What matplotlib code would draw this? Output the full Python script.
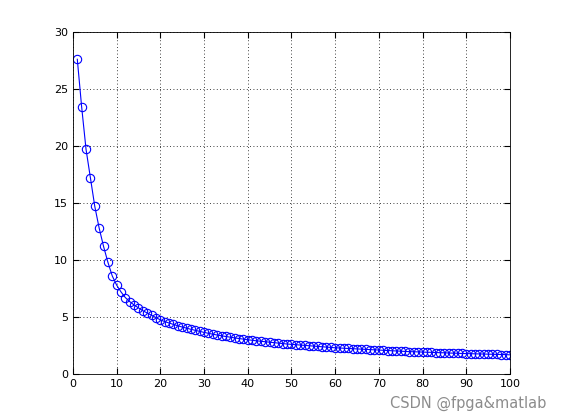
import numpy as np
import matplotlib.pyplot as plt

# x positions 1..100 and the decaying values
x = list(range(1, 101))
y = [27.6, 23.4, 19.7, 17.2, 14.7, 12.8, 11.2, 9.8, 8.6, 7.8,
     7.2, 6.7, 6.35, 6.05, 5.8, 5.55, 5.35, 5.15, 4.95, 4.75,
     4.6, 4.47, 4.35, 4.23, 4.12, 4.02, 3.92, 3.83, 3.74, 3.65,
     3.57, 3.49, 3.42, 3.35, 3.29, 3.23, 3.17, 3.11, 3.06, 3.0,
     2.96, 2.91, 2.87, 2.83, 2.79, 2.75, 2.71, 2.67, 2.63, 2.60,
     2.57, 2.54, 2.51, 2.48, 2.45, 2.42, 2.39, 2.36, 2.33, 2.30,
     2.28, 2.26, 2.24, 2.22, 2.20, 2.18, 2.16, 2.14, 2.12, 2.10,
     2.08, 2.06, 2.04, 2.02, 2.00, 1.98, 1.96, 1.95, 1.94, 1.92,
     1.91, 1.90, 1.88, 1.87, 1.86, 1.84, 1.83, 1.82, 1.80, 1.79,
     1.78, 1.77, 1.76, 1.75, 1.74, 1.73, 1.72, 1.71, 1.70, 1.68]

xticks = [0, 10, 20, 30, 40, 50, 60, 70, 80, 90, 100]
yticks = [0, 5, 10, 15, 20, 25, 30]

fig = plt.figure(figsize=(5.61, 4.2), dpi=100)
ax = fig.add_axes([0.130, 0.1095, 0.779, 0.8145])

ax.plot(x, y, color='#0000ff', linewidth=0.8, marker='o', markersize=6,
        markerfacecolor='none', markeredgecolor='#0000ff', markeredgewidth=0.8)

ax.set_xlim(0, 100)
ax.set_ylim(0, 30)
ax.set_xticks(xticks)
ax.set_yticks(yticks)
ax.tick_params(direction='in', labelsize=8, length=4, top=True, right=True)
ax.grid(True, linestyle=(0, (1, 3)), color='black', linewidth=0.6)
for s in ax.spines.values():
    s.set_linewidth(0.6)

# watermark bottom right
fig.text(0.974, 0.022, 'CSDN @fpga&matlab', ha='right', va='bottom',
         fontsize=10.5, color='#8c8c8c')

fig.savefig('out.png', dpi=100)
